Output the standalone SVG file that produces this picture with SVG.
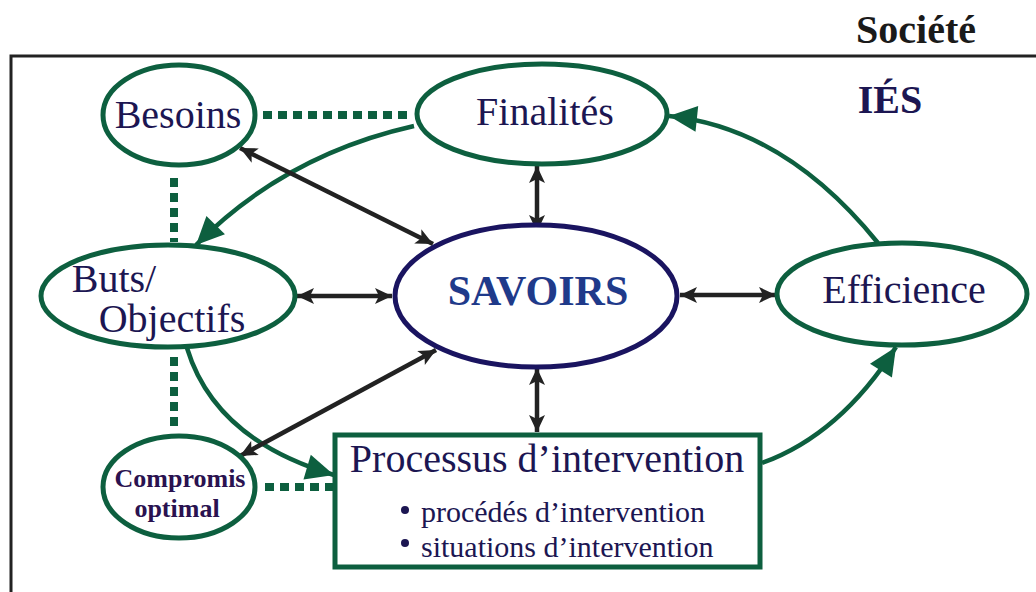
<svg xmlns="http://www.w3.org/2000/svg" width="1036" height="592" viewBox="0 0 1036 592">
<defs>
<style>
.node{fill:#fff;stroke:#0d5f3f;stroke-width:5}
.lbl{font-family:"Liberation Serif","Times New Roman",serif;fill:#1c1652;text-anchor:middle}
.dot{stroke:#0d5f3f;stroke-width:8;stroke-dasharray:9 6;fill:none}
.garr{stroke:#0d5f3f;stroke-width:4.5;fill:none;marker-end:url(#gh)}
.barr{stroke:#222;stroke-width:4.5;fill:none;marker-start:url(#bh);marker-end:url(#bh)}
</style>
<marker id="bh" markerUnits="userSpaceOnUse" markerWidth="20" markerHeight="18" refX="17" refY="8" orient="auto-start-reverse" overflow="visible">
<path d="M0,0 L17,8 L0,16 L4,8 z" fill="#222"/>
</marker>
<marker id="gh" markerUnits="userSpaceOnUse" markerWidth="30" markerHeight="28" refX="28" refY="13" orient="auto" overflow="visible">
<path d="M0,0 L28,13 L0,26 z" fill="#0d5f3f"/>
</marker>
</defs>
<rect width="1036" height="592" fill="#fff"/>
<g id="frame">
<path d="M1036,56 L11,56 L11,592" fill="none" stroke="#222" stroke-width="3"/>
</g>
<text x="916" y="43" class="lbl" style="font-weight:bold;fill:#1a1a1a" font-size="40">Société</text>
<text x="890" y="113" class="lbl" style="font-weight:bold" font-size="40">IÉS</text>
<g id="connectors">
<path class="dot" d="M263,115 L410,115"/>
<path class="dot" d="M174,178 L174,242"/>
<path class="dot" d="M174,357 L174,430"/>
<path class="dot" d="M265,487 L336,487"/>
<path class="garr" d="M414,126 Q285,155 196,245"/>
<path class="garr" d="M187,348 Q215,440 334,475"/>
<path class="garr" d="M762,463 Q840,435 896,347"/>
<path class="garr" d="M878,243 Q785,128 669,116"/>
<path class="barr" d="M240,148 L433,244"/>
<path class="barr" d="M537,166 L537,232"/>
<path class="barr" d="M297,296 L392,296"/>
<path class="barr" d="M680,295 L776,295"/>
<path class="barr" d="M436,350 L240,456"/>
<path class="barr" d="M537,368 L537,432"/>
</g>
<g id="besoins">
<ellipse class="node" cx="179" cy="115" rx="76" ry="50"/>
<text x="178" y="128" class="lbl" font-size="40">Besoins</text>
</g>
<g id="finalites">
<ellipse class="node" cx="542" cy="114" rx="125" ry="50"/>
<text x="545" y="125" class="lbl" font-size="40">Finalités</text>
</g>
<g id="buts">
<ellipse class="node" cx="168" cy="296" rx="127" ry="51"/>
<text x="114" y="292" class="lbl" font-size="40">Buts/</text>
<text x="172" y="332" class="lbl" font-size="40">Objectifs</text>
</g>
<g id="savoirs">
<ellipse cx="536" cy="296" rx="141" ry="71" fill="#fff" stroke="#1a1460" stroke-width="5"/>
<text x="538" y="305" class="lbl" style="font-weight:bold;fill:#1f3a8a" font-size="42">SAVOIRS</text>
</g>
<g id="efficience">
<ellipse class="node" cx="902" cy="294" rx="125" ry="51"/>
<text x="904" y="303" class="lbl" font-size="40">Efficience</text>
</g>
<g id="compromis">
<ellipse class="node" cx="179" cy="487" rx="76" ry="51"/>
<text x="180" y="487" class="lbl" style="font-weight:bold;fill:#2a1250" font-size="26">Compromis</text>
<text x="177" y="517" class="lbl" style="font-weight:bold;fill:#2a1250" font-size="26">optimal</text>
</g>
<g id="processus">
<rect x="335" y="435" width="425" height="132" fill="#fff" stroke="#0d5f3f" stroke-width="5"/>
<text x="547" y="472" class="lbl" font-size="40">Processus d’intervention</text>
<circle cx="405" cy="510" r="4" fill="#1c1652"/>
<circle cx="405" cy="543" r="4" fill="#1c1652"/>
<text x="421" y="522" class="lbl" style="text-anchor:start" font-size="30">procédés d’intervention</text>
<text x="421" y="557" class="lbl" style="text-anchor:start" font-size="30">situations d’intervention</text>
</g>
</svg>
